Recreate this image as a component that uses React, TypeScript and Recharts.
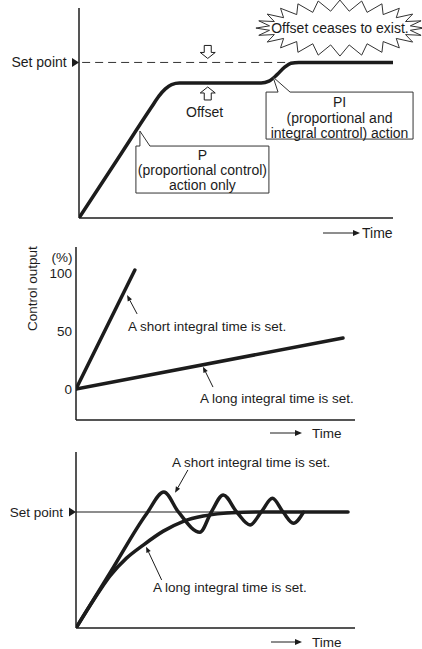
import React from 'react';
import { LineChart, Line, XAxis, YAxis, ReferenceLine, ReferenceDot } from 'recharts';

const FONT = '"Liberation Sans", Arial, Helvetica, sans-serif';
const INK = '#1c1c1c';

// ---------- Chart 1: P action vs PI action ----------
const piTime = [0, 12, 23, 25.5, 27.5, 29.5, 32, 58, 60.5, 63, 65.5, 67.5, 70, 100];
const piValue = [0, 37, 71, 78.5, 83, 85.8, 86.8, 86.8, 88, 92, 97, 99.5, 100, 100];
const setPoint1 = 100;
const pTipTime = 19.4;
const pTipValue = 55.9;
const piTipTime = 61.8;
const piTipValue = 90.6;
const pLines = ['P', '(proportional control)', 'action only'];
const piLines = ['PI', '(proportional and', 'integral control) action'];
const burstText = 'Offset ceases to exist.';

// ---------- Chart 2: control output ----------
const shortOutTime = [0, 21.1];
const shortOutValue = [0, 102.6];
const longOutTime = [0, 95.7];
const longOutValue = [0, 44];
const outputTicks = [0, 50, 100];

// ---------- Chart 3: response ----------
const shortRespTime = [0, 12.5, 25.3, 31.5, 36.7, 44.4, 48.5, 52.8, 57.6, 62.4, 66.4, 70.4, 74.2, 77.9, 81.5];
const shortRespValue = [0, 48.7, 98.5, 117.2, 100, 82.5, 100, 114.7, 100, 88.8, 100, 111.8, 100, 90.3, 99.7];
const longRespTime = [0, 6, 12.2, 18, 24.1, 31.3, 38.5, 45.6, 52.8, 60, 68, 97.5];
const longRespValue = [0, 23, 45, 60, 71.5, 83.5, 92, 96.5, 98.8, 99.7, 100, 100];
const setPoint3 = 100;

const shortLabel = 'A short integral time is set.';
const longLabel = 'A long integral time is set.';

const zip = (xs: number[], ys: number[]) => xs.map((x, i) => ({ x, y: ys[i] }));

const txt = (size: number) => ({ fontFamily: FONT, fontSize: size, fill: INK });

const arrowShape = (props: any) => {
  const { x1, y1, x2, y2 } = props;
  const ang = Math.atan2(y2 - y1, x2 - x1);
  const L = 6;
  const W = 2.4;
  const bx = x2 - L * Math.cos(ang);
  const by = y2 - L * Math.sin(ang);
  const px = -Math.sin(ang) * W;
  const py = Math.cos(ang) * W;
  return (
    <g>
      <line x1={x1} y1={y1} x2={bx} y2={by} stroke={INK} strokeWidth={1} />
      <polygon points={`${x2},${y2} ${bx + px},${by + py} ${bx - px},${by - py}`} fill={INK} />
    </g>
  );
};

const setPointShape = (gap: number, size: number) => (p: any) => {
  const { cx, cy } = p;
  return (
    <g>
      <polygon points={`${cx - 7},${cy - 4.5} ${cx},${cy} ${cx - 7},${cy + 4.5}`} fill={INK} />
      <text x={cx - gap} y={cy} dy="0.35em" textAnchor="end" {...txt(size)}>Set point</text>
    </g>
  );
};

const timeShape = (a0: number, a1: number, t0: number, dy: number, size: number) => (p: any) => {
  const { cx, cy } = p;
  const y = cy + dy;
  return (
    <g>
      <line x1={cx + a0} y1={y} x2={cx + a1 - 6} y2={y} stroke={INK} strokeWidth={1} />
      <polygon points={`${cx + a1},${y} ${cx + a1 - 7},${y - 3} ${cx + a1 - 7},${y + 3}`} fill={INK} />
      <text x={cx + t0} y={y} dy="0.35em" textAnchor="start" {...txt(size)}>Time</text>
    </g>
  );
};

const textShape = (s: string, size: number, anchor: 'start' | 'middle' | 'end', dx = 0, rotate = false) => (p: any) => {
  const { cx, cy } = p;
  const x = cx + dx;
  return (
    <text
      x={x}
      y={cy}
      dy="0.35em"
      textAnchor={anchor}
      transform={rotate ? `rotate(-90 ${x} ${cy})` : undefined}
      {...txt(size)}
    >
      {s}
    </text>
  );
};

const hollowArrow = (down: boolean) => (p: any) => {
  const { cx, cy } = p;
  const s = down ? -1 : 1;
  const tip = cy + s * 4;
  const hb = cy + s * 10;
  const end = cy + s * 17;
  const d = `M${cx - 3.5},${end} L${cx + 3.5},${end} L${cx + 3.5},${hb} L${cx + 7.5},${hb} L${cx},${tip} L${cx - 7.5},${hb} L${cx - 3.5},${hb} Z`;
  return <path d={d} fill="#fff" stroke={INK} strokeWidth={1} />;
};

const calloutShape = (lines: string[], dx: number, dy: number, w: number, h: number, bl: number, br: number, rows: number[]) => (p: any) => {
  const { cx, cy } = p;
  const left = cx + dx;
  const top = cy + dy;
  const d = `M${left + br},${top} L${cx},${cy} L${left + bl},${top} L${left},${top} L${left},${top + h} L${left + w},${top + h} L${left + w},${top} Z`;
  return (
    <g>
      <path d={d} fill="#fff" stroke="#333" strokeWidth={1} strokeLinejoin="miter" />
      {lines.map((l, i) => (
        <text key={i} x={left + w / 2} y={top + rows[i]} dy="0.35em" textAnchor="middle" {...txt(14)}>
          {l}
        </text>
      ))}
    </g>
  );
};

const burstShape = (p: any) => {
  const { cx, cy } = p;
  const N = 24;
  const pts: string[] = [];
  for (let k = 0; k < N; k++) {
    const t = (2 * Math.PI * k) / N;
    const t2 = (2 * Math.PI * (k + 0.5)) / N;
    pts.push(`${cx + 84 * Math.cos(t)},${cy + 28 * Math.sin(t)}`);
    pts.push(`${cx + 71 * Math.cos(t2)},${cy + 17 * Math.sin(t2)}`);
  }
  return (
    <g>
      <polygon points={pts.join(' ')} fill="#fff" stroke="#333" strokeWidth={1} />
      <text x={cx} y={cy} dy="0.35em" textAnchor="middle" {...txt(14)}>{burstText}</text>
    </g>
  );
};

const axisLine = { stroke: INK, strokeWidth: 1.5 };
const lineProps = {
  stroke: INK,
  strokeWidth: 3.5,
  dot: false,
  activeDot: false,
  isAnimationActive: false,
  strokeLinecap: 'round' as const,
  strokeLinejoin: 'round' as const,
};

function ChartPI() {
  return (
    <LineChart width={422} height={242} margin={{ top: 8, left: 78, right: 29, bottom: 23 }}>
      <XAxis type="number" dataKey="x" domain={[0, 100]} allowDataOverflow tick={false} tickLine={false} axisLine={axisLine} height={1} />
      <YAxis type="number" dataKey="y" domain={[0, 135]} allowDataOverflow tick={false} tickLine={false} axisLine={axisLine} width={1} />
      <ReferenceLine segment={[{ x: 1, y: setPoint1 }, { x: 67.8, y: setPoint1 }]} stroke="#333" strokeWidth={1} strokeDasharray="8 5" ifOverflow="visible" />
      <Line data={zip(piTime, piValue)} dataKey="y" type="monotone" {...lineProps} />
      <ReferenceDot x={0} y={setPoint1} r={0} ifOverflow="visible" shape={setPointShape(12.3, 14)} />
      <ReferenceDot x={41} y={setPoint1} r={0} ifOverflow="visible" shape={hollowArrow(true)} />
      <ReferenceDot x={41} y={piValue[6]} r={0} ifOverflow="visible" shape={hollowArrow(false)} />
      <ReferenceDot x={40} y={68} r={0} ifOverflow="visible" shape={textShape('Offset', 14, 'middle')} />
      <ReferenceDot x={pTipTime} y={pTipValue} r={0} ifOverflow="visible" shape={calloutShape(pLines, -4, 15, 133, 47, 4, 14, [9, 24, 39])} />
      <ReferenceDot x={piTipTime} y={piTipValue} r={0} ifOverflow="visible" shape={calloutShape(piLines, -7, 15, 147, 47, 12, 24, [10.5, 26.5, 41.5])} />
      <ReferenceDot x={83.1} y={122.1} r={0} ifOverflow="visible" shape={burstShape} />
      <ReferenceDot x={100} y={0} r={0} ifOverflow="visible" shape={timeShape(-70, -33, -31, 15, 14)} />
    </LineChart>
  );
}

function ChartOutput() {
  return (
    <LineChart width={422} height={208} margin={{ top: 5, left: 75, right: 67, bottom: 29 }}>
      <XAxis type="number" dataKey="x" domain={[0, 100]} allowDataOverflow tick={false} tickLine={false} axisLine={axisLine} height={1} />
      <YAxis
        type="number"
        dataKey="y"
        domain={[-26.7, 122.4]}
        allowDataOverflow
        ticks={outputTicks}
        tickLine={false}
        tickSize={0}
        tickMargin={4}
        tick={{ fontFamily: FONT, fontSize: 13.5, fill: INK }}
        axisLine={axisLine}
        width={1}
      />
      <Line data={zip(shortOutTime, shortOutValue)} dataKey="y" type="linear" {...lineProps} />
      <Line data={zip(longOutTime, longOutValue)} dataKey="y" type="linear" {...lineProps} />
      <ReferenceLine segment={[{ x: 21.9, y: 64.7 }, { x: 18.3, y: 81 }]} ifOverflow="visible" shape={arrowShape} />
      <ReferenceLine segment={[{ x: 49.1, y: 1.7 }, { x: 45.5, y: 19.3 }]} ifOverflow="visible" shape={arrowShape} />
      <ReferenceDot x={18.6} y={54.3} r={0} ifOverflow="visible" shape={textShape(shortLabel, 13.5, 'start')} />
      <ReferenceDot x={44.4} y={-7.8} r={0} ifOverflow="visible" shape={textShape(longLabel, 13.5, 'start')} />
      <ReferenceDot x={0} y={113.8} r={0} ifOverflow="visible" shape={textShape('(%)', 13.5, 'middle', -14)} />
      <ReferenceDot x={0} y={86.6} r={0} ifOverflow="visible" shape={textShape('Control output', 13.5, 'middle', -44, true)} />
      <ReferenceDot x={100} y={-26.7} r={0} ifOverflow="visible" shape={timeShape(-85, -53, -43, 13, 13.5)} />
    </LineChart>
  );
}

function ChartResponse() {
  return (
    <LineChart width={422} height={199} margin={{ top: 2, left: 75, right: 67, bottom: 20 }}>
      <XAxis type="number" dataKey="x" domain={[0, 100]} allowDataOverflow tick={false} tickLine={false} axisLine={axisLine} height={1} />
      <YAxis type="number" dataKey="y" domain={[0, 151.7]} allowDataOverflow tick={false} tickLine={false} axisLine={axisLine} width={1} />
      <ReferenceLine segment={[{ x: 0, y: setPoint3 }, { x: 97.6, y: setPoint3 }]} stroke={INK} strokeWidth={1.2} ifOverflow="visible" />
      <Line data={zip(longRespTime, longRespValue)} dataKey="y" type="monotone" {...lineProps} />
      <Line data={zip(shortRespTime, shortRespValue)} dataKey="y" type="monotone" {...lineProps} />
      <ReferenceDot x={0} y={setPoint3} r={0} ifOverflow="visible" shape={setPointShape(13, 13.5)} />
      <ReferenceLine segment={[{ x: 40.1, y: 136.2 }, { x: 35.5, y: 116.6 }]} ifOverflow="visible" shape={arrowShape} />
      <ReferenceLine segment={[{ x: 30.7, y: 41.4 }, { x: 25.1, y: 70.1 }]} ifOverflow="visible" shape={arrowShape} />
      <ReferenceDot x={34.4} y={143.1} r={0} ifOverflow="visible" shape={textShape(shortLabel, 13.5, 'start')} />
      <ReferenceDot x={27.6} y={35.3} r={0} ifOverflow="visible" shape={textShape(longLabel, 13.5, 'start')} />
      <ReferenceDot x={100} y={0} r={0} ifOverflow="visible" shape={timeShape(-84, -53, -43, 14, 13.5)} />
    </LineChart>
  );
}

export default function App() {
  return (
    <div style={{ position: 'absolute', left: 0, top: 0, width: 422, height: 649, background: '#fff', fontFamily: FONT }}>
      <div style={{ position: 'absolute', left: 0, top: 0 }}>
        <ChartPI />
      </div>
      <div style={{ position: 'absolute', left: 0, top: 242 }}>
        <ChartOutput />
      </div>
      <div style={{ position: 'absolute', left: 0, top: 450 }}>
        <ChartResponse />
      </div>
    </div>
  );
}
